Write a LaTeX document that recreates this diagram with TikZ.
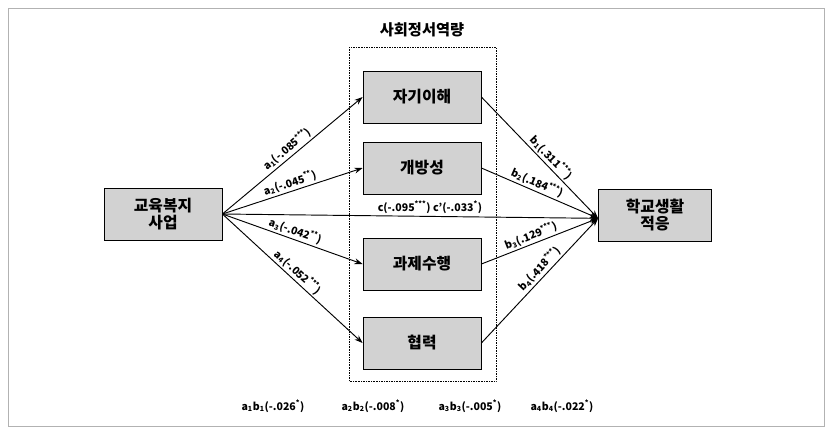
\documentclass[tikz,border=0pt]{standalone}
\usepackage{fontspec}
\setmainfont{Noto Sans CJK KR}
\usetikzlibrary{positioning,arrows.meta}
\begin{document}
\begin{tikzpicture}[x=0.03cm,y=-0.03cm,
                box/.style={draw,fill=gray!35,minimum width=3.55cm,minimum height=1.55cm,font=\fontsize{13.5}{15}\selectfont\bfseries,align=center},
                path/.style={-{Stealth[length=7pt,width=5pt]},thick},
                lab/.style={font=\fontsize{9}{10}\selectfont\bfseries,inner sep=1.5pt}
            ]
                \useasboundingbox (0,0) rectangle (832,434);
                \draw[gray!60] (8,8) rectangle (824,426);
                \draw[densely dotted] (349,47) rectangle (496,381);
                \node[font=\fontsize{13}{15}\selectfont\bfseries] (title) at (422,30) {사회정서역량};
                \node[box] (edu)   at (163,214) {교육복지\\사업};
                \node[box] (self)  at (422,97)  {자기이해};
                \node[box] (open)  at (422,168) {개방성};
                \node[box] (task)  at (422,264) {과제수행};
                \node[box] (coop)  at (422,343) {협력};
                \node[box,minimum width=3.4cm] (adapt) at (655,215) {학교생활\\적응};
                \coordinate (in) at (edu.east);
                \coordinate (out) at ([yshift=-0.1cm]adapt.west);
                \draw[path] (in) -- node[lab,sloped,above]{a\textsubscript{1}(-.085\textsuperscript{***})} (self.west);
                \draw[path] (in) -- node[lab,sloped,above]{a\textsubscript{2}(-.045\textsuperscript{**})} (open.west);
                \draw[path] (in) -- node[lab,sloped,above]{a\textsubscript{3}(-.042\textsuperscript{**})} (task.west);
                \draw[path] (in) -- node[lab,sloped,above]{a\textsubscript{4}(-.052\textsuperscript{***})} (coop.west);
                \draw[path] (self.east) -- node[lab,sloped,above,pos=0.55]{b\textsubscript{1}(.311\textsuperscript{***})} (out);
                \draw[path] (open.east) -- node[lab,sloped,above,pos=0.45]{b\textsubscript{2}(.184\textsuperscript{***})} (out);
                \draw[path] (task.east) -- node[lab,sloped,above,pos=0.45]{b\textsubscript{3}(.129\textsuperscript{***})} (out);
                \draw[path] (coop.east) -- node[lab,sloped,above,pos=0.55]{b\textsubscript{4}(.418\textsuperscript{***})} (out);
                \draw[path] (in) -- (out);
                \node[lab] (c) at (430,207) {c(-.095\textsuperscript{***}) c'(-.033\textsuperscript{*})};
                % indirect effects
                \node[lab] (ab1) at (273,406) {a\textsubscript{1}b\textsubscript{1}(-.026\textsuperscript{*})};
                \node[lab] (ab2) at (373,406) {a\textsubscript{2}b\textsubscript{2}(-.008\textsuperscript{*})};
                \node[lab] (ab3) at (470,406) {a\textsubscript{3}b\textsubscript{3}(-.005\textsuperscript{*})};
                \node[lab] (ab4) at (562,406) {a\textsubscript{4}b\textsubscript{4}(-.022\textsuperscript{*})};
            \end{tikzpicture}
\end{document}
